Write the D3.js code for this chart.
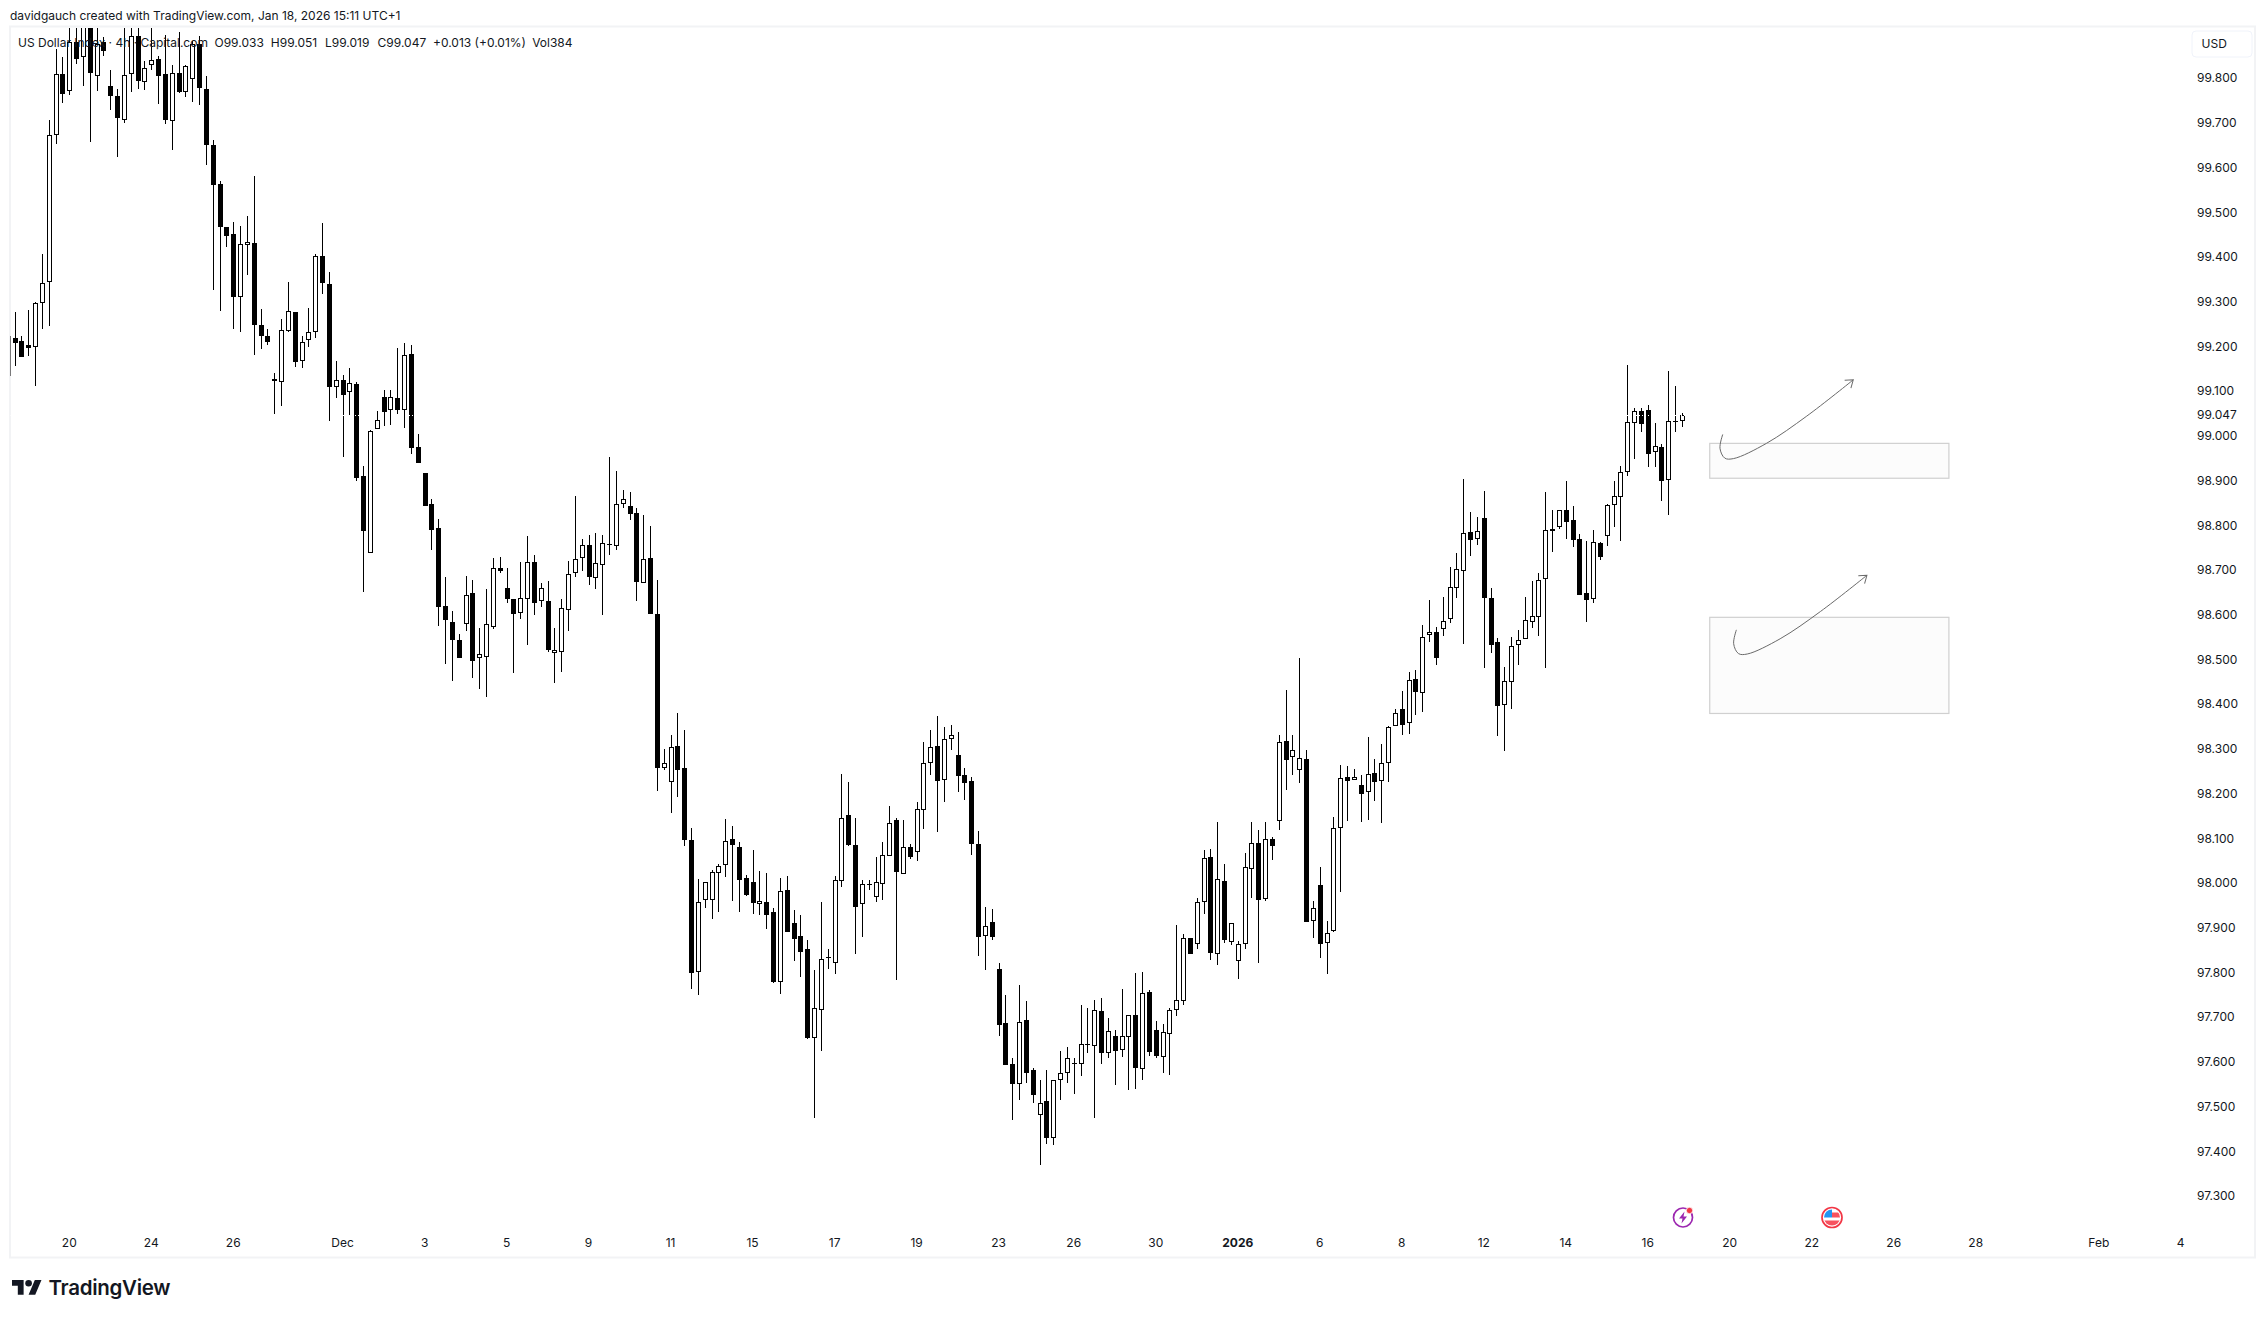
<!DOCTYPE html>
<html><head><meta charset="utf-8">
<style>html,body{margin:0;padding:0;background:#fff;overflow:hidden}svg{display:block}text{font-family:Inter,"Liberation Sans",sans-serif;fill:#131722}</style>
<script src="https://cdn.jsdelivr.net/npm/d3@7"></script></head><body>
<svg id="c" width="2266" height="1318"></svg>
<script>
// Candles start with one partly cut-off candle (index -1) at the left edge
const opens=[99.223,
99.218,99.212,99.204,99.198,99.296,99.343,99.672,99.808,99.772,99.881,
99.846,99.918,99.805,99.880,99.781,99.759,99.707,99.808,99.893,99.792,
99.828,99.842,99.808,99.704,99.812,99.769,99.798,99.877,99.775,99.650,
99.562,99.467,99.451,99.310,99.427,99.432,99.247,99.223,99.128,99.121,
99.235,99.277,99.167,99.214,99.231,99.401,99.339,99.108,99.124,99.097,
99.115,98.910,98.737,99.015,99.086,99.057,99.084,99.057,99.183,98.974,
98.917,98.847,98.793,98.619,98.583,98.543,98.580,98.648,98.502,98.506,
98.573,98.704,98.660,98.635,98.604,98.634,98.717,98.631,98.630,98.515,
98.517,98.611,98.694,98.727,98.756,98.683,98.712,98.756,98.754,98.848,
98.842,98.827,98.670,98.726,98.601,98.256,98.226,98.306,98.256,98.095,
97.802,97.961,97.961,98.022,98.041,98.098,98.081,98.011,98.002,97.954,
97.957,97.935,97.778,97.984,97.910,97.881,97.852,97.653,97.717,97.833,
97.822,98.004,98.152,98.085,97.952,97.996,97.969,97.998,98.060,98.141,
98.021,98.081,98.069,98.163,98.268,98.306,98.231,98.323,98.286,98.241,
98.228,98.087,97.882,97.913,97.808,97.687,97.595,97.550,97.694,97.582,
97.482,97.512,97.429,97.559,97.576,97.596,97.595,97.638,97.636,97.714,
97.619,97.658,97.627,97.655,97.705,97.585,97.756,97.671,97.611,97.663,
97.717,97.735,97.877,97.864,97.958,98.058,97.842,98.004,97.869,97.826,
97.864,98.032,98.089,97.965,98.098,98.139,98.318,98.282,98.253,98.278,
97.915,97.995,97.866,97.893,98.124,98.236,98.231,98.219,98.203,98.245,
98.228,98.268,98.350,98.390,98.357,98.457,98.424,98.554,98.561,98.569,
98.590,98.659,98.697,98.785,98.769,98.815,98.637,98.538,98.399,98.449,
98.531,98.545,98.583,98.594,98.679,98.786,98.795,98.833,98.811,98.769,
98.648,98.634,98.760,98.775,98.845,98.862,98.918,99.028,99.055,99.057,
98.963,98.974,98.902,99.030,99.033];
const highs=[99.223,
99.276,99.223,99.281,99.298,99.406,99.706,99.864,99.846,99.930,99.930,
99.930,99.930,99.930,99.891,99.818,99.775,99.930,99.930,99.930,99.838,
99.930,99.850,99.896,99.828,99.902,99.830,99.883,99.895,99.804,99.661,
99.569,99.467,99.477,99.469,99.491,99.581,99.283,99.239,99.141,99.260,
99.343,99.277,99.223,99.285,99.406,99.475,99.366,99.167,99.136,99.152,
99.120,98.932,99.013,99.055,99.102,99.102,99.196,99.207,99.203,99.004,
98.917,98.858,98.814,98.684,98.608,98.557,98.686,98.677,98.571,98.657,
98.727,98.729,98.704,98.635,98.718,98.776,98.733,98.671,98.675,98.571,
98.634,98.720,98.865,98.769,98.778,98.783,98.778,98.953,98.921,98.879,
98.874,98.838,98.823,98.798,98.678,98.300,98.331,98.380,98.342,98.122,
98.009,98.002,98.029,98.042,98.143,98.127,98.092,98.018,98.074,98.027,
98.022,97.944,98.011,98.016,97.940,97.928,97.873,97.805,97.957,97.852,
98.016,98.244,98.226,98.145,98.007,98.007,98.058,98.092,98.172,98.145,
98.141,98.087,98.180,98.315,98.342,98.373,98.349,98.353,98.337,98.257,
98.237,98.116,97.946,97.942,97.821,97.749,97.609,97.772,97.736,97.586,
97.559,97.582,97.559,97.624,97.633,97.608,97.727,97.720,97.738,97.743,
97.698,97.671,97.763,97.705,97.799,97.801,97.760,97.691,97.685,97.720,
97.906,97.886,97.878,97.966,98.074,98.076,98.136,98.042,97.910,97.870,
98.067,98.136,98.118,98.136,98.102,98.330,98.431,98.330,98.503,98.297,
97.960,98.035,97.915,98.147,98.263,98.261,98.254,98.241,98.326,98.277,
98.311,98.350,98.389,98.429,98.472,98.476,98.577,98.633,98.572,98.640,
98.707,98.738,98.903,98.830,98.818,98.877,98.660,98.547,98.483,98.550,
98.566,98.640,98.675,98.693,98.874,98.834,98.835,98.899,98.843,98.780,
98.765,98.789,98.762,98.847,98.899,98.932,99.158,99.061,99.063,99.068,
99.028,98.981,99.145,99.111,99.051];
const lows=[99.134,
99.156,99.177,99.178,99.111,99.239,99.245,99.652,99.745,99.762,99.831,
99.782,99.657,99.771,99.850,99.728,99.624,99.700,99.769,99.775,99.773,
99.817,99.742,99.697,99.639,99.767,99.757,99.746,99.740,99.605,99.326,
99.279,99.422,99.239,99.232,99.359,99.181,99.194,99.203,99.049,99.067,
99.233,99.154,99.152,99.199,99.219,99.317,99.032,99.084,98.953,99.046,
98.899,98.651,98.737,99.015,99.022,99.024,99.049,99.017,98.959,98.938,
98.844,98.745,98.575,98.490,98.452,98.504,98.563,98.459,98.434,98.416,
98.569,98.694,98.625,98.470,98.591,98.533,98.600,98.616,98.517,98.448,
98.472,98.563,98.685,98.698,98.666,98.657,98.599,98.733,98.745,98.839,
98.812,98.631,98.670,98.602,98.206,98.253,98.157,98.193,98.083,97.763,
97.750,97.945,97.920,97.934,98.013,97.960,97.935,97.971,97.931,97.929,
97.898,97.777,97.752,97.891,97.826,97.790,97.652,97.475,97.625,97.808,
97.797,97.990,98.083,97.842,97.880,97.985,97.958,97.962,98.060,97.783,
98.021,98.053,98.050,98.121,98.242,98.113,98.180,98.298,98.204,98.186,
98.063,97.837,97.805,97.873,97.658,97.593,97.470,97.515,97.553,97.508,
97.370,97.417,97.413,97.515,97.553,97.527,97.569,97.620,97.475,97.595,
97.609,97.549,97.611,97.538,97.540,97.559,97.613,97.609,97.575,97.571,
97.703,97.727,97.841,97.852,97.931,97.828,97.817,97.866,97.861,97.785,
97.852,97.966,97.821,97.960,98.051,98.118,98.208,98.242,98.223,97.913,
97.877,97.832,97.796,97.891,97.980,98.139,98.231,98.137,98.141,98.184,
98.135,98.226,98.350,98.331,98.333,98.375,98.382,98.538,98.487,98.552,
98.581,98.637,98.535,98.731,98.756,98.481,98.515,98.329,98.294,98.389,
98.487,98.545,98.570,98.552,98.481,98.740,98.791,98.769,98.751,98.645,
98.584,98.627,98.723,98.753,98.796,98.765,98.910,98.948,99.008,98.930,
98.930,98.854,98.823,99.008,99.019];
const closes=[99.134,
99.208,99.177,99.197,99.296,99.342,99.672,99.808,99.765,99.881,99.843,
99.918,99.812,99.877,99.861,99.760,99.711,99.806,99.895,99.794,99.822,
99.841,99.805,99.707,99.812,99.769,99.826,99.875,99.778,99.651,99.561,
99.467,99.447,99.311,99.428,99.434,99.248,99.222,99.210,99.122,99.237,
99.278,99.166,99.209,99.231,99.401,99.342,99.108,99.124,99.092,99.117,
98.906,98.788,99.010,99.035,99.054,99.086,99.058,99.180,98.973,98.938,
98.844,98.790,98.616,98.589,98.544,98.504,98.645,98.497,98.511,98.579,
98.704,98.698,98.635,98.602,98.637,98.717,98.627,98.659,98.521,98.520,
98.614,98.690,98.724,98.755,98.685,98.715,98.760,98.757,98.847,98.858,
98.826,98.672,98.724,98.602,98.258,98.268,98.303,98.253,98.097,97.799,
97.957,98.002,98.024,98.039,98.093,98.086,98.007,97.974,97.956,97.959,
97.929,97.779,97.981,97.891,97.875,97.846,97.654,97.720,97.829,97.834,
98.006,98.145,98.085,97.947,97.997,97.997,98.003,98.062,98.133,98.025,
98.080,98.058,98.165,98.268,98.303,98.229,98.321,98.330,98.240,98.224,
98.088,97.880,97.903,97.880,97.683,97.594,97.551,97.689,97.576,97.525,
97.507,97.430,97.559,97.574,97.608,97.597,97.641,97.639,97.715,97.620,
97.668,97.624,97.657,97.704,97.586,97.753,97.623,97.613,97.666,97.715,
97.738,97.878,97.841,97.957,98.055,97.843,98.008,97.873,97.910,97.863,
98.035,98.089,97.963,98.098,98.083,98.315,98.275,98.297,98.279,97.913,
97.943,97.864,97.889,98.122,98.234,98.228,98.236,98.200,98.243,98.226,
98.268,98.348,98.379,98.354,98.453,98.427,98.551,98.562,98.504,98.585,
98.661,98.701,98.782,98.768,98.786,98.638,98.533,98.396,98.451,98.529,
98.543,98.587,98.596,98.677,98.789,98.792,98.833,98.808,98.768,98.645,
98.633,98.762,98.730,98.845,98.865,98.918,99.030,99.055,99.027,98.960,
98.976,98.899,99.032,99.034,99.047];

const priceTicks=[97.3,97.4,97.5,97.6,97.7,97.8,97.9,98,98.1,98.2,98.3,98.4,98.5,98.6,98.7,98.8,98.9,99,99.047,99.1,99.2,99.3,99.4,99.5,99.6,99.7,99.8];
const timeLabels=["20","24","26","Dec","3","5","9","11","15","17","19","23","26","30","2026","6","8","12","14","16","20","22","26","28","Feb","4"];
const timeIndex=[8,20,32,48,60,72,84,96,108,120,132,144,155,167,179,191,203,215,227,239,251,263,275,287,305,317];
const boxes=[[248,283,98.983,98.905],[248,283,98.594,98.379]];
const curveA=[[249.9,99.003],[249.5,98.972],[250.2,98.950],[251.5,98.949],[256.3,98.983],[262.2,99.044],[269.0,99.125]];
const curveB=[[251.9,98.566],[251.5,98.535],[252.2,98.513],[253.5,98.512],[258.3,98.546],[264.2,98.607],[271.0,98.688]];
const legendTitle="US Dollar Index · 4h · Capital.com";
const legendValues=["O99.033","H99.051","L99.019","C99.047","+0.013 (+0.01%)","Vol384"];
const legendX=[214.5,270.8,325,377.6,433,532.2];
const lastClose=99.047;

const svg=d3.select("#c");
const x=d3.scaleLinear().domain([0,244]).range([15.08,1682.41]);
const y=d3.scaleLinear().domain([97.3,99.8]).range([1196,78]);

// frame
svg.append("rect").attr("x",10).attr("y",26.5).attr("width",2245).attr("height",1231)
  .attr("fill","#fff").attr("stroke","#f2f3f5").attr("stroke-width",2);
const defs=svg.append("defs");
defs.append("clipPath").attr("id","pane").append("rect").attr("x",10.5).attr("y",28).attr("width",2175).attr("height",1228);
const m=defs.append("marker").attr("id","ah").attr("viewBox","-9 -6 11 12").attr("refX",0).attr("refY",0)
  .attr("markerWidth",11).attr("markerHeight",12).attr("markerUnits","userSpaceOnUse").attr("orient","auto");
m.append("path").attr("d","M-7,-5L0,0L-7,5").attr("fill","none").attr("stroke","#6a6a6a").attr("stroke-width",1);

const pane=svg.append("g").attr("clip-path","url(#pane)");
// drawings
pane.selectAll("rect.box").data(boxes).join("rect").attr("class","box")
  .attr("x",d=>x(d[0])).attr("width",d=>x(d[1])-x(d[0]))
  .attr("y",d=>y(d[2])).attr("height",d=>y(d[3])-y(d[2]))
  .attr("fill","#fcfcfc").attr("stroke","#d0d0d0").attr("stroke-width",1.2);

// candles
const candles=opens.map((o,k)=>({i:k-1,o,h:highs[k],l:lows[k],c:closes[k]}));
const cg=pane.append("g").attr("shape-rendering","crispEdges");
candles.forEach(d=>{
  const px=Math.floor(x(d.i));
  const top=Math.round(y(Math.max(d.o,d.c))), bot=Math.round(y(Math.min(d.o,d.c)));
  const hi=Math.round(y(d.h)), lo=Math.round(y(d.l));
  cg.append("rect").attr("x",px).attr("width",1).attr("y",hi).attr("height",Math.max(1,lo-hi)).attr("fill","#000");
  if(d.c<d.o||bot-top<2){
    cg.append("rect").attr("x",px-2).attr("width",5).attr("y",top).attr("height",Math.max(1,bot-top)).attr("fill","#000");
  }else{
    cg.append("rect").attr("x",px-1.5).attr("width",4).attr("y",top+.5).attr("height",bot-top-1).attr("fill","#fff").attr("stroke","#000").attr("stroke-width",1);
  }
});
// last-price dotted line, white on white
pane.append("line").attr("x1",10).attr("x2",2186).attr("y1",Math.round(y(lastClose))+.5).attr("y2",Math.round(y(lastClose))+.5)
  .attr("stroke","#fff").attr("stroke-width",1).attr("stroke-dasharray","1 2").attr("shape-rendering","crispEdges");

const curve=d3.line().x(d=>x(d[0])).y(d=>y(d[1])).curve(d3.curveCatmullRom.alpha(.5));
pane.selectAll("path.arr").data([curveA,curveB]).join("path").attr("class","arr").attr("d",curve)
  .attr("fill","none").attr("stroke","#6a6a6a").attr("stroke-width",1).attr("marker-end","url(#ah)");

// axes
const ay=svg.append("g").attr("transform","translate(2197,0)").call(d3.axisRight(y).tickValues(priceTicks).tickSize(0).tickPadding(0).tickFormat(d3.format(".3f")));
ay.select(".domain").remove();
ay.selectAll("text").attr("font-size",12).style("font-size","12px").style("font-family","Inter").style("fill","#131722");
const ax=svg.append("g").attr("transform","translate(-1,1238)").call(d3.axisBottom(x).tickValues(timeIndex).tickSize(0).tickPadding(0).tickFormat((d,k)=>timeLabels[k]));
ax.select(".domain").remove();
ax.selectAll("text").style("font-size","12px").style("font-family","Inter").style("fill","#131722")
  .style("font-weight",(d,k)=>timeLabels[k]==="2026"?700:400);

// header texts
svg.append("text").attr("x",10).attr("y",20).attr("font-size",12).text("davidgauch created with TradingView.com, Jan 18, 2026 15:11 UTC+1");
svg.append("text").attr("x",18).attr("y",47).attr("font-size",12).text(legendTitle);
svg.selectAll("text.lv").data(legendValues).join("text").attr("class","lv").attr("x",(d,k)=>legendX[k]).attr("y",47).attr("font-size",12).text(d=>d);

// currency box
svg.append("rect").attr("x",2192).attr("y",31).attr("width",60).attr("height",26).attr("rx",4).attr("fill","#fff").attr("stroke","#f0f3fa");
svg.append("text").attr("x",2201.5).attr("y",48).attr("font-size",12).text("USD");

// event icons
const ic=svg.append("g").attr("transform","translate(1683,1217.5)");
ic.append("circle").attr("r",9.5).attr("fill","#fff").attr("stroke","#9c27b0").attr("stroke-width",1.7);
ic.append("path").attr("d","M1.5,-6L-4,1H-0.5L-1.5,6L4,-1H0.5Z").attr("fill","#9c27b0");
ic.append("circle").attr("cx",6.5).attr("cy",-7).attr("r",3.2).attr("fill","#f23645").attr("stroke","#fff").attr("stroke-width",.8);
const fl=svg.append("g").attr("transform","translate(1832,1217.5)");
defs.append("clipPath").attr("id","flagc").append("circle").attr("r",8);
fl.append("circle").attr("r",10).attr("fill","#fff").attr("stroke","#f23645").attr("stroke-width",1.7);
const ff=fl.append("g").attr("clip-path","url(#flagc)");
ff.append("rect").attr("x",-9).attr("y",-9).attr("width",18).attr("height",18).attr("fill","#fff");
ff.append("rect").attr("x",0).attr("y",-5).attr("width",9).attr("height",5).attr("fill","#f7525f");
ff.append("rect").attr("x",-9).attr("y",3).attr("width",18).attr("height",6).attr("fill","#f7525f");
ff.append("rect").attr("x",-9).attr("y",-9).attr("width",9).attr("height",9).attr("fill","#2196f3");

// TradingView logo
const lg=svg.append("g").attr("transform","translate(12,1276.6) scale(.83)");
lg.append("path").attr("d","M14 22H7V11H0V4h14v18zM28 22h-8l7.5-18h8L28 22z").attr("fill","#131722");
lg.append("circle").attr("cx",20).attr("cy",8).attr("r",4).attr("fill","#131722");
svg.append("text").attr("x",48.5).attr("y",1295).attr("font-size",20.5).attr("font-weight",600).style("letter-spacing","-0.3px").text("TradingView");
</script></body></html>
